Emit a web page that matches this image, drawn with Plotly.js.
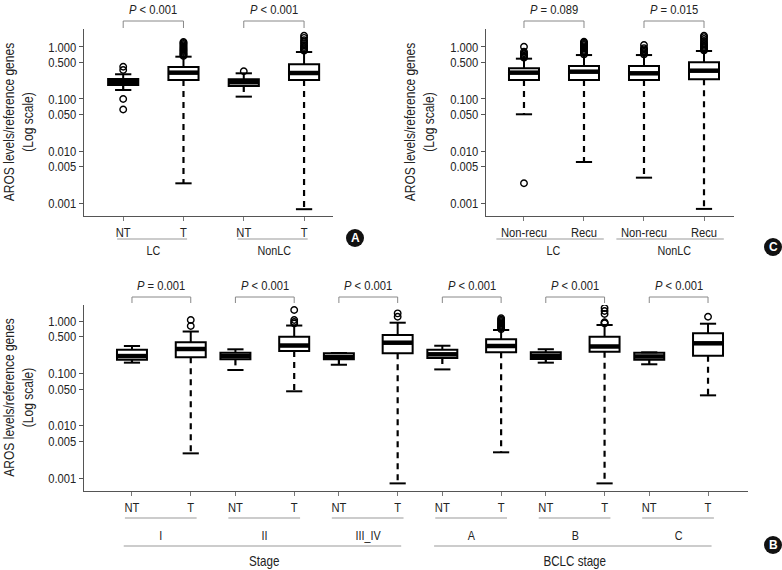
<!DOCTYPE html>
<html><head><meta charset="utf-8">
<script src="https://cdn.plot.ly/plotly-3.0.1.min.js"></script>
<style>html,body{margin:0;padding:0;background:#fff}#chart{width:782px;height:570px}</style>
</head><body><div id="chart"></div>
<script>
const W = 782, H = 570;
const FONT = '"Liberation Sans Narrow","Arial Narrow","Liberation Sans",Arial,sans-serif';
const CONDENSE = 0.83;

// ---------- shared y axis ticks
const yTickVals = [0.001, 0.005, 0.01, 0.05, 0.1, 0.5, 1];
const yTickText = ['0.001', '0.005', '0.010', '0.050', '0.100', '0.500', '1.000'];
const yTitle = 'AROS levels/reference genes<br>(Log scale)';

// ---------- Panel A : LC / NonLC, NT vs T
const aTicks = ['NT', 'T', 'NT', 'T'];
const aGroups = ['LC', 'NonLC'];
const aPvals = ['<i>P</i> &lt; 0.001', '<i>P</i> &lt; 0.001'];
const aQ1 = [0.186, 0.232, 0.178, 0.232];
const aMed = [0.212, 0.321, 0.210, 0.316];
const aQ3 = [0.243, 0.412, 0.239, 0.465];
const aLo = [0.149, 0.00239, 0.111, 0.00076];
const aHi = [0.299, 0.651, 0.312, 0.80];
const aOut = [
  [0.100, 0.063, 0.361, 0.418],
  [0.67, 0.70, 0.73, 0.76, 0.80, 0.84, 0.88, 0.92, 0.97, 1.02, 1.08, 1.14, 1.20, 1.25],
  [0.341],
  [0.85, 0.90, 0.95, 1.00, 1.07, 1.15, 1.25, 1.35, 1.50, 1.65]
];

// ---------- Panel C : recurrence
const cTicks = ['Non-recu', 'Recu', 'Non-recu', 'Recu'];
const cGroups = ['LC', 'NonLC'];
const cPvals = ['<i>P</i> = 0.089', '<i>P</i> = 0.015'];
const cQ1 = [0.232, 0.232, 0.232, 0.239];
const cMed = [0.321, 0.335, 0.312, 0.350];
const cQ3 = [0.389, 0.431, 0.431, 0.508];
const cLo = [0.0508, 0.00614, 0.00307, 0.00077];
const cHi = [0.596, 0.70, 0.70, 0.838];
const cOut = [
  [0.0024, 0.62, 0.65, 0.68, 0.72, 0.76, 0.81, 1.01],
  [0.72, 0.76, 0.80, 0.84, 0.88, 0.93, 0.98, 1.03, 1.09, 1.15, 1.21, 1.26],
  [0.72, 0.76, 0.80, 0.85, 0.90, 0.95, 1.09],
  [0.86, 0.90, 0.95, 1.00, 1.06, 1.13, 1.20, 1.30, 1.42, 1.55, 1.65]
];

// ---------- Panel B : Stage / BCLC stage
const bTicks = ['NT', 'T', 'NT', 'T', 'NT', 'T', 'NT', 'T', 'NT', 'T', 'NT', 'T'];
const bGroups = ['I', 'II', 'III_IV', 'A', 'B', 'C'];
const bSuper = ['Stage', 'BCLC stage'];
const bPvals = ['<i>P</i> = 0.001', '<i>P</i> &lt; 0.001', '<i>P</i> &lt; 0.001',
                '<i>P</i> &lt; 0.001', '<i>P</i> &lt; 0.001', '<i>P</i> &lt; 0.001'];
const bQ1 = [0.182, 0.202, 0.185, 0.267, 0.185, 0.241, 0.196, 0.252, 0.188, 0.259, 0.182, 0.217];
const bMed = [0.214, 0.292, 0.214, 0.340, 0.205, 0.385, 0.231, 0.333, 0.217, 0.326, 0.210, 0.375];
const bQ3 = [0.283, 0.392, 0.248, 0.501, 0.241, 0.540, 0.283, 0.449, 0.252, 0.501, 0.248, 0.582];
const bLo = [0.160, 0.00296, 0.116, 0.0454, 0.146, 0.00079, 0.119, 0.00310, 0.160, 0.00079, 0.149, 0.038];
const bHi = [0.333, 0.63, 0.288, 0.820, 0.245, 0.928, 0.337, 0.673, 0.289, 0.839, 0.252, 0.888];
const bOut = [
  [], [0.803, 1.045],
  [], [0.896, 0.957, 1.045, 1.62],
  [], [1.21, 1.40],
  [], [0.70, 0.735, 0.77, 0.813, 0.85, 0.896, 0.95, 1.00, 1.06, 1.13],
  [], [0.90, 0.928, 0.95, 1.36, 1.55, 1.77],
  [], [1.21]
];

// ---------- layout specs (positions / styles only)
const panels = [
  {xa: 'x', ya: 'y', ticks: aTicks, groups: aGroups, pv: aPvals, q1: aQ1, med: aMed, q3: aQ3, lo: aLo, hi: aHi, out: aOut,
   step: 2, bw: 0.5, xpx: [84, 333], ypx: [29, 216], xr: [-0.65, 3.48], yr: [-3.25, 0.346],
   brTop: 21, brBot: 28, pvY: 9.5, ulY: 239, ulL: -0.1, ulR: 0.06, glY: 250, titleX: 19},
  {xa: 'x2', ya: 'y2', ticks: cTicks, groups: cGroups, pv: cPvals, q1: cQ1, med: cMed, q3: cQ3, lo: cLo, hi: cHi, out: cOut,
   step: 2, bw: 0.5, xpx: [486, 734], ypx: [29, 216], xr: [-0.633, 3.5], yr: [-3.25, 0.346],
   brTop: 21, brBot: 28, pvY: 9.5, ulY: 239, ulL: -0.46, ulR: 0.33, glY: 250, titleX: 420},
  {xa: 'x3', ya: 'y3', ticks: bTicks, groups: bGroups, pv: bPvals, q1: bQ1, med: bMed, q3: bQ3, lo: bLo, hi: bHi, out: bOut,
   step: 1.76, bw: 0.51, xpx: [84, 748], ypx: [305, 491], xr: [-0.816, 10.48], yr: [-3.248, 0.306],
   brTop: 297, brBot: 303, pvY: 285, ulY: 518, ulL: -0.12, ulR: 0.1, glY: 535, titleX: 18}
];

const py = v => 1 - v / H;
const pxX = v => v / W;

const data = [];
const shapes = [];
const annotations = [];
const layout = {
  width: W, height: H, margin: {l: 0, r: 0, t: 0, b: 0},
  paper_bgcolor: '#fff', plot_bgcolor: 'rgba(0,0,0,0)',
  showlegend: false, font: {family: FONT, size: 13, color: '#222'},
  shapes: shapes, annotations: annotations
};

panels.forEach((p, k) => {
  const pos = p.ticks.map((_, i) => Math.floor(i / 2) * p.step + (i % 2));
  const common = {xaxis: p.xa, yaxis: p.ya, hoverinfo: 'skip', showlegend: false};

  // boxes (body + median)
  data.push(Object.assign({
    type: 'box', x: pos, q1: p.q1, median: p.med, q3: p.q3,
    lowerfence: p.q1, upperfence: p.q3, width: p.bw, whiskerwidth: 0,
    boxpoints: false, fillcolor: '#fff', line: {color: '#000', width: 2}
  }, common));

  // lower whiskers (dashed) / upper whiskers / caps / thick medians
  const lwx = [], lwy = [], uwx = [], uwy = [], cx = [], cy = [], mx = [], my = [];
  const capH = p.bw * 0.27;
  pos.forEach((x, i) => {
    lwx.push(x, x, null); lwy.push(p.q1[i], p.lo[i], null);
    uwx.push(x, x, null); uwy.push(p.q3[i], p.hi[i], null);
    cx.push(x - capH, x + capH, null, x - capH, x + capH, null);
    cy.push(p.lo[i], p.lo[i], null, p.hi[i], p.hi[i], null);
    mx.push(x - p.bw / 2, x + p.bw / 2, null); my.push(p.med[i], p.med[i], null);
  });
  data.push(Object.assign({type: 'scatter', mode: 'lines', x: lwx, y: lwy,
    line: {color: '#000', width: 2.2, dash: '6px,5px'}}, common));
  data.push(Object.assign({type: 'scatter', mode: 'lines', x: uwx, y: uwy,
    line: {color: '#000', width: 2}}, common));
  data.push(Object.assign({type: 'scatter', mode: 'lines', x: cx, y: cy,
    line: {color: '#000', width: 2}}, common));
  data.push(Object.assign({type: 'scatter', mode: 'lines', x: mx, y: my,
    line: {color: '#000', width: 4.5}}, common));

  // outliers
  const ox = [], oy = [];
  p.out.forEach((arr, i) => arr.forEach(v => { ox.push(pos[i]); oy.push(v); }));
  data.push(Object.assign({type: 'scatter', mode: 'markers', x: ox, y: oy,
    marker: {symbol: 'circle-open', size: 6.5, color: '#000', line: {width: 1.4, color: '#000'}}}, common));

  // axes
  const xk = 'xaxis' + (k ? k + 1 : ''), yk = 'yaxis' + (k ? k + 1 : '');
  layout[xk] = {
    domain: [pxX(p.xpx[0]), pxX(p.xpx[1])], range: p.xr, anchor: p.ya,
    tickmode: 'array', tickvals: pos, ticktext: p.ticks,
    ticks: 'outside', ticklen: 4, tickwidth: 1, tickcolor: '#777',
    showline: true, linecolor: '#555', linewidth: 1,
    showgrid: false, zeroline: false, fixedrange: true,
    tickfont: {family: FONT, size: 13.5, color: '#222'}
  };
  layout[yk] = {
    domain: [py(p.ypx[1]), py(p.ypx[0])], range: p.yr, type: 'log', anchor: p.xa,
    tickmode: 'array', tickvals: yTickVals, ticktext: yTickText,
    ticks: 'outside', ticklen: 4, tickwidth: 1, tickcolor: '#555',
    showline: true, linecolor: '#555', linewidth: 1,
    showgrid: false, zeroline: false, fixedrange: true,
    tickfont: {family: FONT, size: 13.5, color: '#222'}
  };

  // y title
  annotations.push({xref: 'paper', yref: 'paper', x: pxX(p.titleX), y: py((p.ypx[0] + p.ypx[1]) / 2),
    text: yTitle, textangle: -90, showarrow: false, xanchor: 'center', yanchor: 'middle',
    font: {family: FONT, size: 14.5, color: '#222'}});

  // brackets, p values, underlines, group labels
  p.groups.forEach((g, j) => {
    const x0 = pos[2 * j], x1 = pos[2 * j + 1];
    shapes.push({type: 'path', xref: p.xa, yref: 'paper',
      path: `M ${x0},${py(p.brBot)} L ${x0},${py(p.brTop)} L ${x1},${py(p.brTop)} L ${x1},${py(p.brBot)}`,
      line: {color: '#888', width: 1}});
    annotations.push({xref: p.xa, yref: 'paper', x: (x0 + x1) / 2, y: py(p.pvY), text: p.pv[j],
      showarrow: false, xanchor: 'center', yanchor: 'middle', font: {family: FONT, size: 13.5, color: '#222'}});
    shapes.push({type: 'line', xref: p.xa, yref: 'paper', x0: x0 + p.ulL, x1: x1 + p.ulR,
      y0: py(p.ulY), y1: py(p.ulY), line: {color: '#999', width: 1}});
    annotations.push({xref: p.xa, yref: 'paper', x: (x0 + x1) / 2, y: py(p.glY), text: g,
      showarrow: false, xanchor: 'center', yanchor: 'middle', font: {family: FONT, size: 13, color: '#222'}});
  });

  // super groups for panel B
  if (k === 2) {
    bSuper.forEach((s, j) => {
      const a = pos[6 * j], b = pos[6 * j + 5];
      shapes.push({type: 'line', xref: p.xa, yref: 'paper', x0: a - 0.14, x1: b + 0.06,
        y0: py(546), y1: py(546), line: {color: '#999', width: 1}});
      annotations.push({xref: p.xa, yref: 'paper', x: (pos[6 * j + 2] + pos[6 * j + 3]) / 2, y: py(561), text: s,
        showarrow: false, xanchor: 'center', yanchor: 'middle', font: {family: FONT, size: 14, color: '#222'}});
    });
  }
});

// circled panel letters
const badges = [['A', 355, 238], ['C', 773, 247], ['B', 773, 545]];
badges.forEach(([t, x, y]) => {
  shapes.push({type: 'circle', xref: 'paper', yref: 'paper',
    x0: pxX(x - 9), x1: pxX(x + 9), y0: py(y + 9), y1: py(y - 9),
    fillcolor: '#111', line: {color: '#111', width: 0}});
  annotations.push({xref: 'paper', yref: 'paper', x: pxX(x), y: py(y), text: '<b>' + t + '</b>',
    showarrow: false, xanchor: 'center', yanchor: 'middle',
    font: {family: 'Liberation Sans, Arial, sans-serif', size: 12, color: '#fff'}});
});

// narrow (condensed) look of the original type: compress glyphs horizontally about each text anchor
function condense(gd) {
  gd.querySelectorAll('.main-svg text').forEach(t => {
    if (t.dataset.cond) return;
    if (t.querySelector('tspan[style*="bold"]')) return;
    const x = parseFloat(t.getAttribute('x') || '0');
    const tr = t.getAttribute('transform') || '';
    t.setAttribute('transform', `${tr} translate(${x},0) scale(${CONDENSE},1) translate(${-x},0)`.trim());
    t.dataset.cond = '1';
  });
}

const gd = document.getElementById('chart');
Plotly.newPlot(gd, data, layout, {staticPlot: true, displayModeBar: false}).then(() => condense(gd));
</script>
</body></html>
